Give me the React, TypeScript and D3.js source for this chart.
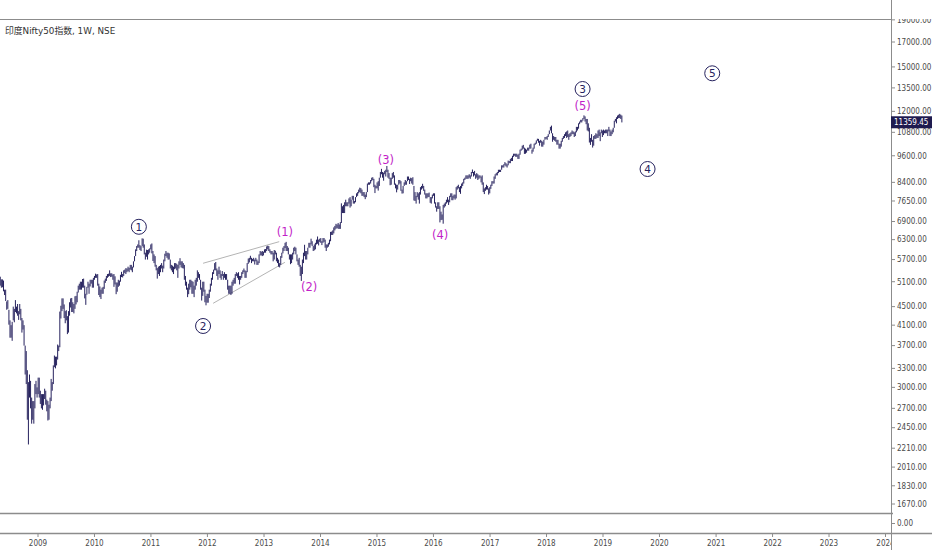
import React from "react";
import * as d3 from "d3";

const title = "印度Nifty50指数, 1W, NSE";
const lastClose = 11359.45;

// weekly [high, low]; each year's list starts on the Friday in yearStarts
const yearStarts = [
  "2008-05-02", "2009-01-02", "2010-01-01", "2011-01-07", "2012-01-06", "2013-01-04",
  "2014-01-03", "2015-01-02", "2016-01-01", "2017-01-06", "2018-01-05", "2019-01-04",
];

const w2008 = [
  [5230, 5000], [5160, 4950], [5160, 4960], [5130, 4860], [4900, 4770],
  [4900, 4630], [4620, 4430], [4650, 4450], [4430, 4110],
  [4200, 3850], [4100, 3850], [4170, 3790], [4500, 4200],
  [4450, 4160], [4650, 4380], [4500, 4350], [4560, 4300], [4400, 4210],
  [4560, 4330], [4450, 4200], [4250, 3950], [4200, 4010],
  [4100, 3700], [3700, 3200], [3600, 3050], [3270, 2550], [3080, 2252],
  [3200, 2850], [3100, 2700], [2850, 2500], [2800, 2550],
  [2800, 2500], [3050, 2700], [3100, 2900], [3000, 2850],
];
const w2009 = [
  [3150, 2900], [3150, 2850], [2950, 2760], [2900, 2700], [2900, 2680],
  [2900, 2740], [2980, 2830], [2950, 2750], [2820, 2660],
  [2800, 2540], [2750, 2550], [2850, 2700], [3130, 2800],
  [3080, 2950], [3350, 3050], [3520, 3320], [3500, 3300],
  [3500, 3350], [3720, 3450], [3700, 3600], [4390, 3670], [4520, 4240],
  [4690, 4400], [4690, 4450], [4550, 4250], [4400, 4140],
  [4420, 4200], [4290, 3920], [4400, 3950], [4600, 4300], [4690, 4480],
  [4700, 4380], [4600, 4380], [4560, 4350], [4740, 4450],
  [4750, 4550], [4850, 4600], [5000, 4830], [5050, 4900],
  [5100, 4900], [5100, 4900], [5170, 4950], [5180, 4950], [5000, 4690],
  [4800, 4540], [4970, 4780], [5100, 4950], [5050, 4800],
  [5150, 4980], [5150, 5050], [5150, 4950], [5200, 4950],
];
const w2010 = [
  [5250, 5150], [5310, 5200], [5290, 5200], [5300, 5000], [5050, 4770],
  [4980, 4720], [4900, 4675], [4950, 4800], [4970, 4800],
  [5130, 4920], [5180, 5070], [5250, 5120], [5300, 5200],
  [5310, 5230], [5400, 5250], [5320, 5220], [5320, 5230], [5290, 5150],
  [5300, 4970], [5240, 5030], [5080, 4790], [5080, 4850],
  [5150, 4970], [5130, 5000], [5280, 5100], [5360, 5220],
  [5300, 5210], [5400, 5250], [5420, 5330], [5460, 5300], [5450, 5350],
  [5500, 5380], [5470, 5350], [5550, 5420], [5550, 5400],
  [5500, 5350], [5650, 5480], [5800, 5650], [6000, 5800],
  [6100, 5950], [6150, 6050], [6280, 6050], [6130, 5980], [6100, 5950],
  [6340, 6100], [6330, 6050], [6150, 5850], [5900, 5700],
  [5990, 5780], [5980, 5700], [6000, 5850], [6030, 5900], [6150, 6000],
];
const w2011 = [
  [6180, 5880], [5950, 5660], [5850, 5600], [5800, 5500],
  [5550, 5400], [5460, 5180], [5500, 5300], [5520, 5250],
  [5550, 5350], [5600, 5450], [5530, 5350], [5700, 5450],
  [5870, 5650], [5950, 5800], [5900, 5750], [5900, 5700], [5880, 5700],
  [5700, 5450], [5550, 5400], [5530, 5350], [5500, 5300],
  [5600, 5430], [5600, 5450], [5580, 5400], [5550, 5200],
  [5650, 5450], [5740, 5550], [5650, 5480], [5650, 5460], [5600, 5450],
  [5550, 5150], [5250, 5000], [5100, 4900], [4950, 4720],
  [5050, 4790], [5150, 4900], [5150, 4960], [5120, 4800], [5100, 4800],
  [5000, 4720], [5150, 4900], [5200, 5000], [5400, 5100],
  [5350, 5200], [5300, 5150], [5150, 4900], [4950, 4640],
  [5100, 4750], [5100, 4850], [4900, 4600], [4750, 4530], [4800, 4590],
];
const w2012 = [
  [4800, 4590], [4900, 4700], [5050, 4850], [5200, 5000],
  [5350, 5150], [5420, 5300], [5600, 5400], [5630, 5400],
  [5450, 5250], [5400, 5150], [5500, 5300], [5400, 5200], [5300, 5150],
  [5380, 5250], [5300, 5150], [5350, 5200], [5300, 5150],
  [5300, 5150], [5150, 4900], [5000, 4800], [5000, 4800],
  [5000, 4770], [5100, 4800], [5150, 5000], [5200, 5050], [5300, 5050],
  [5350, 5250], [5320, 5200], [5350, 5150], [5250, 5030],
  [5250, 5150], [5350, 5200], [5400, 5300], [5450, 5350], [5400, 5200],
  [5380, 5200], [5600, 5350], [5730, 5580], [5750, 5620],
  [5810, 5700], [5750, 5600], [5720, 5650], [5750, 5650],
  [5700, 5560], [5750, 5650], [5700, 5550], [5650, 5550], [5850, 5600],
  [5950, 5820], [5930, 5820], [5950, 5800], [5930, 5820],
];
const w2013 = [
  [6000, 5900], [6010, 5900], [6090, 5950], [6110, 6000],
  [6100, 5950], [6000, 5900], [5950, 5850], [5950, 5850],
  [5900, 5650], [5980, 5700], [5960, 5850], [5900, 5650], [5750, 5600],
  [5700, 5500], [5600, 5480], [5800, 5550], [5900, 5750],
  [6050, 5880], [6100, 5950], [6200, 6040], [6230, 5950], [6100, 5950],
  [6050, 5850], [5850, 5700], [5850, 5570], [5850, 5600],
  [5900, 5700], [6050, 5850], [6080, 5950], [6050, 5850],
  [5850, 5650], [5700, 5550], [5750, 5500], [5550, 5250], [5500, 5120],
  [5700, 5300], [5900, 5600], [6140, 5800], [5950, 5700],
  [5950, 5700], [6050, 5850], [6200, 6050], [6200, 6050],
  [6330, 6150], [6250, 6100], [6100, 5950], [6150, 5970], [6200, 6000],
  [6300, 6150], [6400, 6170], [6300, 6120], [6330, 6230],
];
const w2014 = [
  [6350, 6200], [6250, 6130], [6350, 6200], [6350, 6230], [6300, 6050],
  [6150, 5950], [6150, 6050], [6200, 6080], [6300, 6150],
  [6550, 6250], [6560, 6450], [6600, 6450], [6700, 6500],
  [6750, 6600], [6820, 6650], [6800, 6680], [6850, 6650],
  [6800, 6650], [6880, 6650], [7560, 6850], [7450, 7200], [7500, 7200],
  [7600, 7200], [7700, 7450], [7600, 7450], [7600, 7450],
  [7750, 7550], [7800, 7400], [7700, 7450], [7850, 7700],
  [7850, 7550], [7650, 7550], [7800, 7600], [7950, 7800], [8000, 7850],
  [8100, 7950], [8180, 8000], [8160, 7950], [8100, 7850],
  [8000, 7850], [8000, 7800], [7900, 7720], [8000, 7800], [8350, 8000],
  [8400, 8300], [8400, 8300], [8500, 8350], [8600, 8450],
  [8620, 8500], [8550, 8200], [8300, 7960], [8250, 8150],
];
const w2015 = [
  [8400, 8150], [8450, 8060], [8600, 8250], [8850, 8600], [8990, 8750],
  [8850, 8600], [8820, 8470], [8900, 8750], [8950, 8650],
  [9120, 8850], [8950, 8600], [8800, 8550], [8600, 8280],
  [8600, 8300], [8800, 8550], [8850, 8600], [8700, 8300],
  [8350, 8150], [8300, 7990], [8300, 8100], [8500, 8300], [8500, 8350],
  [8450, 8050], [8100, 7940], [8250, 7950], [8400, 8250],
  [8500, 8300], [8450, 8300], [8650, 8450], [8650, 8500], [8550, 8330],
  [8600, 8450], [8580, 8350], [8620, 8300], [8250, 7670],
  [8000, 7650], [7850, 7550], [8000, 7800], [7950, 7700],
  [8000, 7550], [8200, 7900], [8250, 8100], [8340, 8150], [8250, 8050],
  [8100, 7900], [7950, 7750], [7950, 7750], [7950, 7800],
  [7980, 7800], [7800, 7580], [7800, 7550], [7900, 7750],
];
const w2016 = [
  [7950, 7850], [7950, 7550], [7600, 7400], [7450, 7250], [7600, 7350],
  [7600, 7350], [7450, 6870], [7250, 6950], [7150, 6960],
  [7500, 6825], [7550, 7400], [7600, 7450], [7700, 7550],
  [7800, 7600], [7700, 7500], [7850, 7600], [7950, 7800], [7950, 7680],
  [7850, 7680], [7900, 7750], [7900, 7700], [8200, 7750],
  [8250, 8100], [8300, 8150], [8200, 8000], [8250, 7930],
  [8350, 8150], [8400, 8250], [8550, 8350], [8600, 8500], [8700, 8550],
  [8700, 8550], [8700, 8550], [8750, 8600], [8700, 8550],
  [8850, 8650], [8960, 8800], [8850, 8650], [8900, 8700], [8750, 8550],
  [8800, 8600], [8750, 8500], [8700, 8550], [8700, 8600],
  [8650, 8400], [8700, 8300], [8400, 8000], [8150, 7920],
  [8200, 8050], [8300, 8100], [8250, 8100], [8150, 7900], [8200, 7950],
];
const w2017 = [
  [8300, 8130], [8450, 8250], [8450, 8350], [8650, 8350],
  [8750, 8550], [8800, 8700], [8850, 8700], [8950, 8800],
  [8950, 8850], [8950, 8850], [9150, 8950], [9150, 9050], [9200, 9050],
  [9300, 9150], [9250, 9100], [9200, 9050], [9370, 9150],
  [9350, 9250], [9450, 9250], [9500, 9350], [9600, 9350],
  [9700, 9550], [9700, 9600], [9700, 9550], [9700, 9550], [9650, 9450],
  [9700, 9450], [9900, 9650], [9950, 9850], [10100, 9900],
  [10140, 9950], [10000, 9690], [9950, 9700], [9900, 9750],
  [10000, 9850], [10000, 9850], [10150, 9950], [10200, 9950], [9900, 9700],
  [10000, 9800], [10200, 9950], [10250, 10150], [10370, 10200],
  [10460, 10350], [10450, 10250], [10350, 10100], [10400, 10250],
  [10350, 10050], [10300, 10050], [10400, 10150], [10550, 10400], [10550, 10450],
];
const w2018 = [
  [10600, 10400], [10700, 10550], [10900, 10700], [11100, 10900],
  [11170, 10750], [10750, 10300], [10600, 10400], [10550, 10350],
  [10550, 10300], [10400, 10150], [10400, 10150], [10200, 9950], [10200, 9950],
  [10350, 10050], [10500, 10300], [10600, 10450], [10700, 10500],
  [10800, 10600], [10850, 10500], [10900, 10550], [10700, 10400],
  [10750, 10550], [10800, 10600], [10900, 10700], [10850, 10700], [10800, 10550],
  [10850, 10600], [11100, 10800], [11100, 10900], [11300, 11000],
  [11400, 11250], [11500, 11350], [11500, 11350], [11600, 11450], [11760, 11550],
  [11700, 11400], [11550, 11250], [11550, 10900], [11300, 10850],
  [11050, 10260], [10500, 10140], [10700, 10300], [10400, 10005],
  [10600, 10100], [10650, 10450], [10750, 10450], [10700, 10500], [10900, 10500],
  [10950, 10600], [10800, 10330], [10950, 10750], [10900, 10550],
];
const w2019 = [
  [10950, 10650], [10900, 10750], [10950, 10750], [10950, 10750],
  [10950, 10600], [11100, 10850], [10950, 10600], [10850, 10600],
  [10950, 10700], [11050, 10800], [11450, 11050], [11550, 11400], [11650, 11300],
  [11750, 11550], [11800, 11600], [11850, 11600], [11800, 11550],
  [11750, 11350],
];
const weekly = [w2008, w2009, w2010, w2011, w2012, w2013, w2014, w2015, w2016, w2017, w2018, w2019];

const priceTicks = [
  19000, 17000, 15000, 13500, 12000, 10800, 9600, 8400, 7650, 6900, 6300, 5700,
  5100, 4500, 4100, 3700, 3300, 3000, 2700, 2450, 2210, 2010, 1830, 1670,
];
const yearTicks = [2009, 2010, 2011, 2012, 2013, 2014, 2015, 2016, 2017, 2018, 2019, 2020, 2021, 2022, 2023, 2024];

// Elliott wave labels (anchor date, price)
const majorWaves = [
  { label: "1", date: "2010-10-15", price: 6720 },
  { label: "2", date: "2011-12-04", price: 4083 },
  { label: "3", date: "2018-08-22", price: 13425 },
  { label: "4", date: "2019-10-16", price: 8983 },
  { label: "5", date: "2020-12-07", price: 14527 },
];
const minorWaves = [
  { label: "(1)", date: "2013-05-16", price: 6536 },
  { label: "(2)", date: "2013-10-20", price: 4959 },
  { label: "(3)", date: "2015-02-28", price: 9399 },
  { label: "(4)", date: "2016-02-13", price: 6449 },
  { label: "(5)", date: "2018-08-22", price: 12346 },
];
const wedgeLines = [
  [{ date: "2011-12-04", price: 5595 }, { date: "2013-04-09", price: 6236 }],
  [{ date: "2012-02-07", price: 4576 }, { date: "2013-05-16", price: 5622 }],
];

const parse = d3.timeParse("%Y-%m-%d");
const barColor = "#26225e";
const frameColor = "#8c8c8c";
const axisText = "#4a4a4a";
const magenta = "#c21fc8";
const axisFont = "'DejaVu Sans Condensed', 'Liberation Sans', sans-serif";

export default function App() {
  const x = d3
    .scaleTime()
    .domain([new Date(2009, 0, 1), new Date(2019, 0, 1)])
    .range([38, 603]);
  const y = d3.scaleLog().domain([17000, 1670]).range([42, 504]);

  const bars = weekly.flatMap((rows, k) => {
    const start = parse(yearStarts[k]) as Date;
    return rows.map(([high, low], i) => ({ date: d3.timeDay.offset(start, 7 * i), high, low }));
  });

  const line = d3
    .line<{ date: string; price: number }>()
    .x((d) => x(parse(d.date) as Date))
    .y((d) => y(d.price));

  return (
    <svg
      width={932}
      height={550}
      style={{ position: "absolute", left: 0, top: 0, background: "#fff" }}
      fontFamily="'DejaVu Sans', 'Noto Sans CJK SC', sans-serif"
    >
      <defs>
        <clipPath id="plot">
          <rect x={0} y={19} width={891} height={494} />
        </clipPath>
        <clipPath id="yaxis">
          <rect x={891} y={19} width={41} height={494} />
        </clipPath>
        <clipPath id="xaxis">
          <rect x={0} y={533} width={891} height={17} />
        </clipPath>
      </defs>

      {/* frame */}
      <line x1={0} x2={891} y1={19.5} y2={19.5} stroke={frameColor} />
      <line x1={891.5} x2={891.5} y1={0} y2={550} stroke={frameColor} />
      <line x1={0} x2={893} y1={513.5} y2={513.5} stroke={frameColor} strokeWidth={1.5} />
      <line x1={0} x2={932} y1={533.5} y2={533.5} stroke={frameColor} strokeWidth={1.5} />

      <text x={5} y={34} fontSize={8.8} fill="#333">
        {title}
      </text>

      <g clipPath="url(#plot)">
        {wedgeLines.map((pts, i) => (
          <path key={i} d={line(pts) ?? ""} stroke="#b4b4b4" strokeWidth={1} fill="none" />
        ))}
        {bars.map((d, i) => (
          <line
            key={i}
            x1={x(d.date)}
            x2={x(d.date)}
            y1={y(d.high)}
            y2={y(d.low)}
            stroke={barColor}
            strokeWidth={1}
          />
        ))}
        {majorWaves.map((w) => {
          const cx = x(parse(w.date) as Date);
          const cy = y(w.price);
          return (
            <g key={w.label}>
              <circle cx={cx} cy={cy} r={7.5} fill="#fff" stroke={barColor} strokeWidth={1} />
              <text x={cx} y={cy} dy="0.36em" textAnchor="middle" fontSize={10.5} fill={barColor}>
                {w.label}
              </text>
            </g>
          );
        })}
        {minorWaves.map((w) => (
          <text
            key={w.label}
            x={x(parse(w.date) as Date)}
            y={y(w.price)}
            dy="0.36em"
            textAnchor="middle"
            fontSize={11.5}
            fill={magenta}
          >
            {w.label}
          </text>
        ))}
      </g>

      {/* price axis */}
      <g clipPath="url(#yaxis)" fontSize={8} fontFamily={axisFont} fill={axisText}>
        {priceTicks.map((p) => (
          <g key={p}>
            <line x1={891} x2={895} y1={y(p)} y2={y(p)} stroke={frameColor} />
            <text x={897} y={y(p)} dy="0.35em">
              {d3.format(".2f")(p)}
            </text>
          </g>
        ))}
      </g>
      <line x1={891} x2={895} y1={523.5} y2={523.5} stroke={frameColor} />
      <text x={897} y={523.5} dy="0.35em" fontSize={8} fontFamily={axisFont} fill={axisText}>
        0.00
      </text>

      {/* last price marker */}
      <rect x={891} y={y(lastClose) - 6} width={41} height={12} fill="#1f1b4f" />
      <text x={894} y={y(lastClose)} dy="0.35em" fontSize={8} fontFamily={axisFont} fill="#fff">
        {d3.format(".2f")(lastClose)}
      </text>

      {/* time axis */}
      <g clipPath="url(#xaxis)" fontSize={8} fontFamily={axisFont} fill={axisText}>
        {yearTicks.map((yr) => {
          const px = x(new Date(yr, 0, 1));
          return (
            <g key={yr}>
              <line x1={px} x2={px} y1={534} y2={537} stroke={frameColor} />
              <text x={px} y={546} textAnchor="middle">
                {yr}
              </text>
            </g>
          );
        })}
      </g>
    </svg>
  );
}
